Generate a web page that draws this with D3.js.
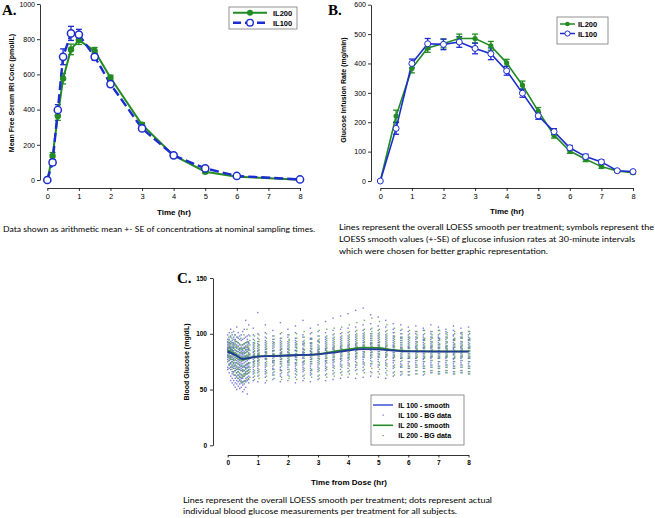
<!DOCTYPE html>
<html><head><meta charset="utf-8">
<script src="https://cdn.jsdelivr.net/npm/d3@7"></script>
<style>body{margin:0;background:#fff}svg{display:block}</style>
</head><body>
<svg id="c" width="655" height="518"></svg>
<script>
// ---------- Panel A data ----------
const timesA = [0, 0.167, 0.333, 0.5, 0.75, 1, 1.5, 2, 3, 4, 5, 6, 8];
const iriIL200 = [0, 136, 364, 576, 742, 795, 733, 581, 314, 140, 47, 19, 2];
const iriIL200se = [0, 20, 25, 30, 30, 25, 20, 15, 12, 10, 8, 5, 2];
const iriIL100 = [0, 100, 398, 700, 833, 826, 700, 545, 293, 140, 66, 23, 3];
const iriIL100se = [0, 15, 30, 45, 40, 30, 20, 15, 12, 10, 8, 5, 2];
const ticksA_y = [0, 200, 400, 600, 800, 1000];
const ticksA_x = [0, 1, 2, 3, 4, 5, 6, 7, 8];

// ---------- Panel B data ----------
const timesB = [0, 0.5, 1, 1.5, 2, 2.5, 3, 3.5, 4, 4.5, 5, 5.5, 6, 6.5, 7, 7.5, 8];
const girIL200 = [0, 221, 383, 453, 468, 485, 485, 460, 402, 326, 238, 156, 102, 74, 49, 34, 28];
const girIL200se = [0, 20, 15, 15, 15, 15, 15, 15, 12, 14, 12, 10, 8, 8, 6, 5, 4];
const girIL100 = [0, 179, 400, 467, 465, 473, 451, 433, 375, 299, 222, 168, 113, 83, 65, 35, 32];
const girIL100se = [0, 20, 15, 18, 18, 18, 18, 20, 15, 14, 12, 10, 8, 8, 7, 4, 4];
const ticksB_y = [0, 100, 200, 300, 400, 500, 600];
const ticksB_x = [0, 1, 2, 3, 4, 5, 6, 7, 8];

// ---------- Panel C data ----------
const ticksC_y = [0, 50, 100, 150];
const ticksC_x = [0, 1, 2, 3, 4, 5, 6, 7, 8];
const smoothT = [0, 0.25, 0.5, 0.75, 1, 1.5, 2, 2.5, 3, 3.5, 4, 4.5, 5, 5.5, 6, 7, 8];
const smoothIL100 = [84, 81, 77.5, 78.5, 79.5, 80, 80.5, 81, 81.5, 83, 85, 86.3, 86, 85, 84.2, 84, 84];
const smoothIL200 = [85, 81.5, 77, 78.5, 79.8, 80.2, 80.5, 81, 81.8, 84, 86, 87.5, 87.3, 85.5, 84.5, 84.3, 84.3];
const bgTimes = [0, 0.05, 0.1, 0.15, 0.2, 0.25, 0.3, 0.35, 0.4, 0.45, 0.5, 0.55, 0.6, 0.65, 0.7,
  0.85, 1, 1.25, 1.5, 1.75, 2, 2.25, 2.5, 2.75, 3, 3.25, 3.5, 3.75, 4, 4.25, 4.5, 4.75, 5,
  5.25, 5.5, 5.75, 6, 6.25, 6.5, 6.75, 7, 7.25, 7.5, 7.75, 8];
const bgIL100 = [
"84 88 79 92 75 86 81 95 70 83 90 77 87 99 68 85 80 93",
"82 91 76 87 73 95 84 69 80 88 101 78 85 72 92 83 65 89",
"80 86 74 93 70 88 62 83 97 77 85 68 91 79 104 73 87 58",
"79 90 72 85 66 94 81 60 88 75 99 70 84 56 92 77 86 64",
"78 85 69 92 63 81 97 74 87 58 83 71 90 66 102 76 54 88",
"77 88 67 83 95 60 79 72 91 56 85 69 99 74 63 81 52 93",
"76 84 65 90 71 58 87 80 97 62 74 93 55 82 68 106 78 50",
"75 86 63 81 92 57 70 79 96 66 84 53 89 73 60 101 77 68",
"74 83 61 90 68 55 79 87 95 64 72 51 85 77 59 98 70 81",
"75 82 60 88 67 94 71 56 80 63 86 52 77 99 69 58 84 73",
"76 85 62 90 70 57 81 66 95 73 54 87 68 79 60 102 48 83",
"77 84 64 91 70 58 80 67 96 74 55 87 62 82 104 71 50 88",
"78 86 66 92 72 60 83 69 97 57 80 89 64 75 112 52 85 70",
"78 88 67 93 73 61 84 70 98 58 80 90 46 76 64 86 72 95",
"79 87 68 92 74 62 83 71 99 59 81 91 65 77 56 86 73 108",
"79 84 72 90 66 86 75 95 61 81 70 88 58 83 77 99 64 92 74 80 68 105",
"80 85 73 91 67 87 76 96 62 82 71 89 57 84 78 100 65 93 75 81 69 119",
"80 86 72 92 66 88 77 97 61 83 70 90 56 84 78 101 64 94 74 81 68 108",
"80 85 74 91 68 87 76 95 63 82 71 89 59 84 78 98 65 93 75 81 69 103",
"81 86 73 92 67 88 77 96 62 83 70 90 57 85 79 100 64 94 75 82 68 110",
"80 86 74 91 68 87 76 97 63 83 72 89 58 84 78 99 65 93 75 81 70 104",
"81 85 73 92 67 88 77 96 61 82 71 90 56 85 79 101 64 94 74 80 69 107",
"81 86 74 91 68 87 78 97 62 83 72 90 58 84 79 99 66 93 75 82 70 112",
"81 87 73 92 67 89 77 96 63 84 71 91 57 85 79 100 65 95 75 82 69 105",
"82 86 74 93 68 88 78 98 62 84 72 90 59 85 80 102 66 94 76 83 70 108",
"82 87 75 93 69 89 78 97 63 85 73 91 58 86 80 101 67 95 76 83 71 111",
"83 88 76 94 70 90 79 99 64 86 74 92 59 87 81 103 67 96 77 84 72 114",
"84 89 77 95 71 91 80 100 65 87 75 93 60 88 82 104 68 97 78 85 73 116",
"85 90 78 96 72 92 81 101 66 88 76 94 61 89 83 105 69 98 79 86 74 118",
"86 91 79 97 72 93 82 102 67 89 77 95 60 90 84 106 70 99 80 87 75 121",
"86 92 79 98 73 94 82 103 67 89 77 96 61 90 84 108 70 100 80 87 75 123",
"87 92 80 98 73 94 83 104 66 90 78 96 62 91 85 109 71 100 81 88 76 117",
"86 92 79 98 72 94 82 103 66 89 77 96 61 90 84 107 70 100 80 87 75 115",
"85 91 79 97 72 93 81 102 65 88 76 95 60 89 83 106 69 99 79 86 74 112",
"85 90 78 96 71 92 81 101 65 88 76 94 62 89 83 104 69 98 79 86 74 109",
"84 90 78 96 71 92 80 100 66 87 75 94 63 88 82 103 70 97 78 85 73 108",
"84 89 78 95 71 91 80 99 66 87 75 93 63 88 82 102 69 97 78 85 73 106",
"84 89 78 95 72 91 80 100 67 87 76 93 64 88 82 102 70 97 78 85 74 107",
"84 90 77 95 71 92 80 99 66 87 75 94 63 88 82 103 69 97 78 85 73 105",
"84 89 78 95 72 91 80 100 67 87 76 93 65 88 82 102 70 97 79 85 74 108",
"84 90 78 96 71 92 80 99 66 87 75 94 64 88 82 103 69 97 78 85 73 106",
"84 89 78 95 72 91 80 100 67 87 76 93 65 88 82 102 70 97 79 85 74 104",
"84 90 77 95 71 92 81 99 66 87 75 94 64 88 82 103 69 98 78 86 73 107",
"84 89 78 96 72 91 80 100 67 87 76 93 65 88 82 101 70 97 79 85 74 105",
"84 90 78 95 71 92 80 99 66 87 75 94 64 88 82 102 69 97 78 85 73 106"];
const bgIL200 = [
"85 90 80 94 76 87 82 97 72 88 79 92",
"83 89 77 93 74 86 80 98 70 85 91 78",
"82 88 75 92 71 85 79 96 68 86 101 77",
"80 87 73 91 69 84 77 95 65 82 89 74",
"79 86 71 90 67 83 76 94 63 81 99 72",
"78 85 70 89 65 82 74 93 61 80 88 68",
"77 84 69 88 63 81 73 92 60 79 97 66",
"76 83 68 87 62 80 72 91 58 78 86 65",
"76 83 67 87 61 79 71 90 57 78 96 64",
"76 82 67 86 61 79 71 90 56 77 85 63",
"76 83 67 87 62 79 71 91 57 78 99 64",
"77 83 68 88 63 80 72 92 58 79 86 65",
"77 84 69 88 64 81 73 92 59 80 104 66",
"78 85 70 89 65 82 74 93 60 80 87 67",
"78 85 70 90 66 82 74 94 61 81 98 68",
"80 85 73 91 67 87 76 94 62 82 71 89 59 84 78 98 65 92 75 81",
"81 86 74 90 68 88 77 95 63 83 72 90 60 85 79 99 66 93 76 82",
"80 86 73 91 67 87 77 96 62 83 71 89 58 84 78 100 65 93 75 82",
"81 85 74 92 68 88 76 95 63 82 72 90 60 85 79 98 66 92 76 81",
"80 86 73 91 67 87 77 96 61 83 71 89 59 84 78 101 65 93 75 82",
"81 86 74 92 68 88 77 95 62 83 72 90 60 85 79 99 66 94 76 82",
"81 87 74 91 68 88 77 96 63 84 72 90 59 85 79 100 66 93 76 82",
"81 86 75 92 69 89 78 97 63 83 73 91 60 85 80 102 67 94 76 83",
"82 87 75 92 68 89 78 96 64 84 73 91 61 86 80 101 67 95 77 83",
"82 87 75 93 69 89 78 98 63 84 73 92 60 86 80 103 67 95 77 83",
"83 88 76 94 70 90 79 98 64 85 74 92 61 87 81 104 68 96 78 84",
"84 89 77 95 71 91 80 100 65 86 75 93 62 88 82 105 69 97 79 85",
"85 90 78 96 72 92 81 101 66 87 76 94 63 89 83 106 70 98 80 86",
"86 91 79 97 73 93 82 102 67 88 77 95 64 90 84 108 71 99 81 87",
"87 92 80 98 74 94 83 103 68 89 78 96 64 91 85 110 72 100 82 88",
"88 93 81 99 74 95 84 104 68 90 79 97 65 92 86 112 72 101 83 89",
"88 94 81 100 75 96 84 105 69 91 79 98 65 92 86 114 73 102 83 89",
"88 93 81 99 74 95 84 104 68 90 79 97 64 92 86 111 72 101 82 89",
"86 92 80 98 73 94 82 103 67 89 77 96 63 90 84 108 71 100 81 87",
"85 91 79 97 72 93 81 101 66 88 76 95 63 89 83 105 70 98 80 86",
"85 90 78 96 72 92 81 100 66 87 76 94 64 88 83 104 70 97 79 86",
"84 90 78 96 71 92 80 100 66 87 75 94 63 88 82 103 69 97 79 85",
"85 90 79 96 72 92 81 99 67 87 76 93 64 89 83 102 70 97 79 86",
"84 89 78 95 71 91 80 100 66 87 75 94 64 88 82 103 69 96 79 85",
"85 90 79 96 72 92 81 99 67 88 76 93 65 89 83 102 70 97 80 86",
"84 90 78 95 71 91 80 100 66 87 75 94 64 88 82 103 69 96 79 85",
"85 89 79 96 72 92 81 99 67 87 76 93 65 89 83 101 70 97 80 86",
"84 90 78 95 71 91 80 100 66 88 75 94 64 88 82 102 69 96 79 85",
"85 90 79 96 72 92 81 99 67 87 76 93 65 89 83 101 70 97 80 86",
"84 89 78 95 71 91 80 100 66 87 75 94 64 88 82 102 69 96 79 85"];

// ---------- styles ----------
const GREEN = "#228b22", BLUE = "#1c2ccf";
const SANS = "'Liberation Sans', Arial, sans-serif";
const SERIF = "'Liberation Serif', 'Times New Roman', serif";
const CAP = "Lato, 'Open Sans', sans-serif";
const fmt = d3.format("d");

const svg = d3.select("#c");

function styleAxis(g, fs, bold) {
  g.selectAll("path.domain").attr("stroke", "#000").attr("stroke-width", 0.8);
  g.selectAll(".tick line").attr("stroke", "#000").attr("stroke-width", 0.8);
  g.selectAll(".tick text").attr("font-family", SANS).attr("font-size", fs)
    .attr("font-weight", bold ? "bold" : "normal").attr("fill", "#000");
}

function text(x, y, s, o = {}) {
  const t = svg.append("text").attr("x", x).attr("y", y).text(s)
    .attr("font-family", o.family || SANS).attr("font-size", o.size || 8)
    .attr("font-weight", o.weight || "normal").attr("fill", o.fill || "#000")
    .attr("text-anchor", o.anchor || "start");
  if (o.rotate) t.attr("transform", `rotate(-90,${x},${y})`);
  if (o.len) t.attr("textLength", o.len).attr("lengthAdjust", "spacingAndGlyphs");
  return t;
}

function errorBars(g, xs, ys, se, x, y, color) {
  const d = xs.map((t, i) => ({ t, v: ys[i], s: se[i] })).filter(d => d.s > 0);
  const eb = g.append("g").attr("stroke", color).attr("stroke-width", 1.3);
  eb.selectAll("line.v").data(d).join("line")
    .attr("x1", d => x(d.t)).attr("x2", d => x(d.t))
    .attr("y1", d => y(d.v - d.s)).attr("y2", d => y(d.v + d.s));
  eb.selectAll("line.t").data(d).join("line")
    .attr("x1", d => x(d.t) - 3).attr("x2", d => x(d.t) + 3)
    .attr("y1", d => y(d.v + d.s)).attr("y2", d => y(d.v + d.s));
  eb.selectAll("line.b").data(d).join("line")
    .attr("x1", d => x(d.t) - 3).attr("x2", d => x(d.t) + 3)
    .attr("y1", d => y(d.v - d.s)).attr("y2", d => y(d.v - d.s));
}

// ================= Panel A =================
{
  const x = d3.scaleLinear([0, 8], [47.3, 300]);
  const y = d3.scaleLinear([0, 1000], [180, 4]);
  const ay = svg.append("g").attr("transform", "translate(40,0)")
    .call(d3.axisLeft(y).tickValues(ticksA_y).tickFormat(fmt).tickSize(3).tickSizeOuter(0).tickPadding(2));
  styleAxis(ay, 7, false);
  const ax = svg.append("g").attr("transform", "translate(0,188)")
    .call(d3.axisBottom(x).tickValues(ticksA_x).tickFormat(fmt).tickSize(3).tickSizeOuter(0).tickPadding(3));
  styleAxis(ax, 7.5, false);

  const g = svg.append("g");
  const line = d3.line().x(d => x(d[0])).y(d => y(d[1]));
  errorBars(g, timesA, iriIL200, iriIL200se, x, y, GREEN);
  errorBars(g, timesA, iriIL100, iriIL100se, x, y, BLUE);
  g.append("path").attr("d", line(timesA.map((t, i) => [t, iriIL200[i]])))
    .attr("fill", "none").attr("stroke", GREEN).attr("stroke-width", 2);
  g.append("path").attr("d", line(timesA.map((t, i) => [t, iriIL100[i]])))
    .attr("fill", "none").attr("stroke", BLUE).attr("stroke-width", 2.4).attr("stroke-dasharray", "9,4");
  g.selectAll("circle.g").data(timesA).join("circle")
    .attr("cx", t => x(t)).attr("cy", (t, i) => y(iriIL200[i])).attr("r", 3.2).attr("fill", GREEN);
  g.selectAll("circle.b").data(timesA).join("circle")
    .attr("cx", t => x(t)).attr("cy", (t, i) => y(iriIL100[i])).attr("r", 3.6)
    .attr("fill", "#fff").attr("stroke", BLUE).attr("stroke-width", 1.5);

  // legend
  svg.append("rect").attr("x", 229).attr("y", 7).attr("width", 68).attr("height", 22)
    .attr("fill", "#fff").attr("stroke", "#777").attr("stroke-width", 0.8);
  svg.append("line").attr("x1", 233).attr("x2", 267).attr("y1", 12.7).attr("y2", 12.7).attr("stroke", GREEN).attr("stroke-width", 2);
  svg.append("circle").attr("cx", 250).attr("cy", 12.7).attr("r", 3).attr("fill", GREEN);
  svg.append("line").attr("x1", 233).attr("x2", 267).attr("y1", 22.7).attr("y2", 22.7).attr("stroke", BLUE).attr("stroke-width", 2.4).attr("stroke-dasharray", "8,4");
  svg.append("circle").attr("cx", 250).attr("cy", 22.7).attr("r", 3.3).attr("fill", "#fff").attr("stroke", BLUE).attr("stroke-width", 1.4);
  text(273, 15.5, "IL200", { size: 7.5, weight: "bold" });
  text(273, 25.5, "IL100", { size: 7.5, weight: "bold" });

  text(2, 15, "A.", { family: SERIF, size: 15, weight: "bold" });
  text(14, 93, "Mean Free Serum IRI Conc (pmol/L)", { size: 7, weight: "bold", anchor: "middle", rotate: true });
  text(174, 215, "Time (hr)", { size: 8, weight: "bold", anchor: "middle" });
  text(3, 232, "Data shown as arithmetic mean +- SE of concentrations at nominal sampling times.", { family: CAP, size: 8, len: 312 });
}

// ================= Panel B =================
{
  const x = d3.scaleLinear([0, 8], [380.3, 633]);
  const y = d3.scaleLinear([0, 600], [181, 4.7]);
  const ay = svg.append("g").attr("transform", "translate(371,0)")
    .call(d3.axisLeft(y).tickValues(ticksB_y).tickFormat(fmt).tickSize(3).tickSizeOuter(0).tickPadding(2));
  styleAxis(ay, 7, false);
  const ax = svg.append("g").attr("transform", "translate(0,188)")
    .call(d3.axisBottom(x).tickValues(ticksB_x).tickFormat(fmt).tickSize(3).tickSizeOuter(0).tickPadding(3));
  styleAxis(ax, 7.5, false);

  const g = svg.append("g");
  const line = d3.line().x(d => x(d[0])).y(d => y(d[1]));
  errorBars(g, timesB, girIL200, girIL200se, x, y, GREEN);
  errorBars(g, timesB, girIL100, girIL100se, x, y, BLUE);
  g.append("path").attr("d", line(timesB.map((t, i) => [t, girIL200[i]])))
    .attr("fill", "none").attr("stroke", GREEN).attr("stroke-width", 1.6);
  g.append("path").attr("d", line(timesB.map((t, i) => [t, girIL100[i]])))
    .attr("fill", "none").attr("stroke", BLUE).attr("stroke-width", 1.6);
  g.selectAll("circle.g").data(timesB).join("circle")
    .attr("cx", t => x(t)).attr("cy", (t, i) => y(girIL200[i])).attr("r", 2.6).attr("fill", GREEN);
  g.selectAll("circle.b").data(timesB).join("circle")
    .attr("cx", t => x(t)).attr("cy", (t, i) => y(girIL100[i])).attr("r", 3)
    .attr("fill", "#fff").attr("stroke", BLUE).attr("stroke-width", 1);

  svg.append("rect").attr("x", 557).attr("y", 17).attr("width", 51).attr("height", 27)
    .attr("fill", "#fff").attr("stroke", "#777").attr("stroke-width", 0.8);
  svg.append("line").attr("x1", 560).attr("x2", 575).attr("y1", 24).attr("y2", 24).attr("stroke", GREEN).attr("stroke-width", 1.5);
  svg.append("circle").attr("cx", 567.5).attr("cy", 24).attr("r", 2.3).attr("fill", GREEN);
  svg.append("line").attr("x1", 560).attr("x2", 575).attr("y1", 33.5).attr("y2", 33.5).attr("stroke", BLUE).attr("stroke-width", 1.5);
  svg.append("circle").attr("cx", 567.5).attr("cy", 33.5).attr("r", 2.6).attr("fill", "#fff").attr("stroke", BLUE).attr("stroke-width", 1);
  text(578, 27, "IL200", { size: 7.5, weight: "bold" });
  text(578, 36.5, "IL100", { size: 7.5, weight: "bold" });

  text(328, 15, "B.", { family: SERIF, size: 15, weight: "bold" });
  text(346, 90, "Glucose Infusion Rate (mg/min)", { size: 7, weight: "bold", anchor: "middle", rotate: true });
  text(507, 214, "Time (hr)", { size: 8, weight: "bold", anchor: "middle" });
  text(339, 230, "Lines represent the overall LOESS smooth per treatment; symbols represent the", { family: CAP, size: 8, len: 315 });
  text(339, 242, "LOESS smooth values (+-SE) of glucose infusion rates at 30-minute intervals", { family: CAP, size: 8, len: 296 });
  text(339, 254, "which were chosen for better graphic representation.", { family: CAP, size: 8, len: 209 });
}

// ================= Panel C =================
{
  const x = d3.scaleLinear([0, 8], [227.7, 468.5]);
  const y = d3.scaleLinear([0, 150], [445.3, 278]);
  const ay = svg.append("g").attr("transform", "translate(213,0)")
    .call(d3.axisLeft(y).tickValues(ticksC_y).tickFormat(fmt).tickSize(3).tickSizeOuter(0).tickPadding(3));
  styleAxis(ay, 6.5, true);
  const ax = svg.append("g").attr("transform", "translate(0,455)")
    .call(d3.axisBottom(x).tickValues(ticksC_x).tickFormat(fmt).tickSize(2.5).tickSizeOuter(0).tickPadding(3));
  styleAxis(ax, 6.5, true);

  const g = svg.append("g");
  const pts100 = [], pts200 = [];
  bgTimes.forEach((t, i) => {
    bgIL100[i].split(" ").forEach(v => pts100.push([t, +v]));
    bgIL200[i].split(" ").forEach(v => pts200.push([t + 0.04, +v]));
  });
  g.selectAll("rect.b").data(pts100).join("rect")
    .attr("x", d => x(d[0]) - 0.7).attr("y", d => y(d[1]) - 0.7).attr("width", 1.4).attr("height", 1.4)
    .attr("fill", "#5a5ad8").attr("opacity", 0.8);
  g.selectAll("rect.g").data(pts200).join("rect")
    .attr("x", d => x(d[0]) - 0.7).attr("y", d => y(d[1]) - 0.7).attr("width", 1.4).attr("height", 1.4)
    .attr("fill", "#4c9c4c").attr("opacity", 0.8);

  const line = d3.line().x(d => x(d[0])).y(d => y(d[1])).curve(d3.curveMonotoneX);
  g.append("path").attr("d", line(smoothT.map((t, i) => [t, smoothIL200[i]])))
    .attr("fill", "none").attr("stroke", "#2a8a2a").attr("stroke-width", 1.8);
  g.append("path").attr("d", line(smoothT.map((t, i) => [t, smoothIL100[i]])))
    .attr("fill", "none").attr("stroke", "#243a9a").attr("stroke-width", 1.8);

  // legend
  svg.append("rect").attr("x", 371).attr("y", 395).attr("width", 93).attr("height", 50)
    .attr("fill", "#fff").attr("stroke", "#777").attr("stroke-width", 0.8);
  svg.append("line").attr("x1", 373).attr("x2", 393).attr("y1", 405).attr("y2", 405).attr("stroke", "#4a5ad8").attr("stroke-width", 1.6);
  svg.append("rect").attr("x", 382.5).attr("y", 414.5).attr("width", 1.2).attr("height", 1.2).attr("fill", "#5a5ad8");
  svg.append("line").attr("x1", 373).attr("x2", 393).attr("y1", 425.3).attr("y2", 425.3).attr("stroke", "#2a8a2a").attr("stroke-width", 1.6);
  svg.append("rect").attr("x", 382.5).attr("y", 435).attr("width", 1.2).attr("height", 1.2).attr("fill", "#4c9c4c");
  const lt = ["IL 100 - smooth", "IL 100 - BG data", "IL 200 - smooth", "IL 200 - BG data"];
  [405, 415, 425.3, 435.7].forEach((yy, i) => text(398.3, yy + 2.5, lt[i], { size: 7, weight: "bold" }));

  text(177, 283, "C.", { family: SERIF, size: 15, weight: "bold" });
  text(189, 362, "Blood Glucose (mg/dL)", { size: 7, weight: "bold", anchor: "middle", rotate: true });
  text(349, 485, "Time from Dose (hr)", { size: 8, weight: "bold", anchor: "middle" });
  text(183, 503, "Lines represent the overall LOESS smooth per treatment; dots represent actual", { family: CAP, size: 8, len: 309 });
  text(183, 514, "individual blood glucose measurements per treatment for all subjects.", { family: CAP, size: 8, len: 274 });
}
</script>
</body></html>
